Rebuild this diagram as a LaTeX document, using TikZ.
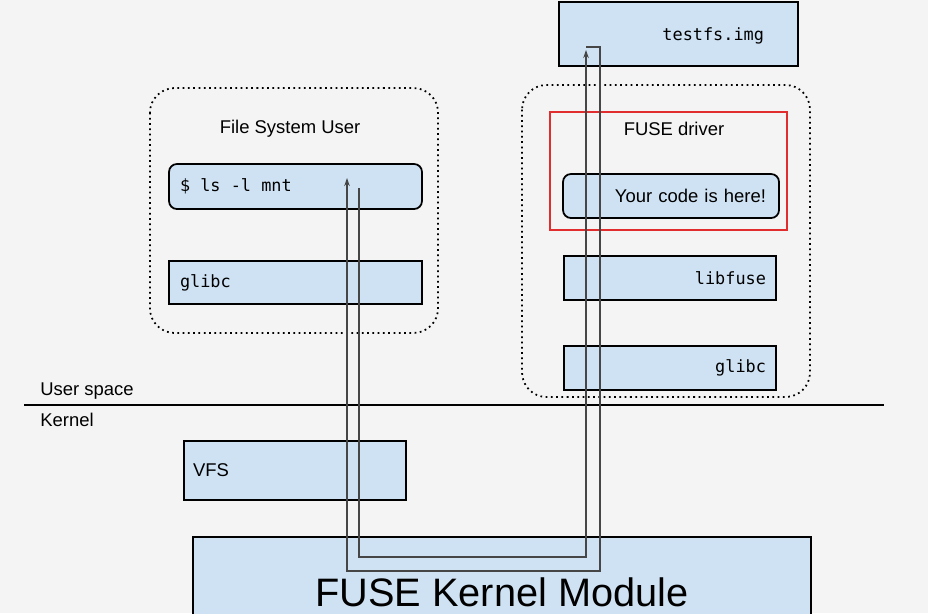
\documentclass[tikz,border=0pt]{standalone}
\usepackage{fontspec}
\setmainfont{Liberation Sans}
\setmonofont{DejaVu Sans Mono}
\usepackage{xcolor}
\definecolor{fuseblue}{RGB}{207,226,243}
\definecolor{fusebg}{RGB}{244,244,244}
\definecolor{fusered}{RGB}{225,45,45}
\definecolor{fusegrey}{RGB}{70,70,70}
\usetikzlibrary{arrows.meta,positioning,calc}
\newcommand{\msp}{\hspace{0.602em}}
\tikzset{
  blk/.style={draw=black,line width=1pt,fill=fuseblue,font=\fontsize{9.6}{11}\ttfamily,inner ysep=0pt},
  rblk/.style={blk,rounded corners=4.5pt},
  grp/.style={draw=black,dotted,line width=1pt,rounded corners=14pt},
  lab/.style={font=\fontsize{10.5}{12}\selectfont,inner sep=0pt},
  arr/.style={-{Stealth[length=1.6mm,width=1.1mm]},draw=fusegrey,line width=0.6pt},
}

\begin{document}
\begin{tikzpicture}[x=0.02cm,y=-0.02cm]
    \fill[fusebg] (0,0) rectangle (928,613);
    \useasboundingbox (0,0) rectangle (928,613);
    \clip (0,0) rectangle (928,613);
    % user side
    \draw[grp] (150,88) rectangle (438,333);
    \node[lab] (fsuser) at (290,129) {File System User};
    \node[rblk,minimum width=5.06cm,minimum height=0.9cm,text width=4.62cm,inner xsep=0.22cm,align=left] (ls) at (295.5,186.5) {\$\msp{}ls\msp{}-l\msp{}mnt};
    \node[blk,minimum width=5.06cm,minimum height=0.86cm,text width=4.62cm,inner xsep=0.22cm,align=left] (glibcl) at (295.5,282.5) {glibc};
    % driver side
    \node[blk,minimum width=4.78cm,minimum height=1.28cm,text width=3.42cm,inner xsep=0.68cm,align=right,text height=7pt,text depth=0pt] (img) at (678.5,34) {testfs.img};
    \draw[grp] (522,85) rectangle (810,397);
    \draw[fusered,line width=1.2pt] (550,112) rectangle (787,230);
    \node[lab] (fdrv) at (674,129) {FUSE driver};
    \node[rblk,font=\fontsize{10.5}{12}\selectfont,minimum width=4.32cm,minimum height=0.88cm,text width=3.8cm,inner xsep=0.26cm,align=right] (code) at (671,196) {Your code is here!};
    \node[blk,minimum width=4.24cm,minimum height=0.88cm,text width=3.84cm,inner xsep=0.2cm,align=right] (libfuse) at (670,278) {libfuse};
    \node[blk,minimum width=4.24cm,minimum height=0.88cm,text width=3.84cm,inner xsep=0.2cm,align=right] (glibcr) at (670,368) {glibc};
    % user / kernel split
    \coordinate (splitl) at (24,405);
    \coordinate (splitr) at (884,405);
    \draw[black,line width=1pt] (splitl) -- (splitr);
    \node[lab,anchor=west] (uspace) at (40,391) {User space};
    \node[lab,anchor=west] (kern) at (40,420) {Kernel};
    % kernel
    \node[blk,font=\fontsize{10.5}{12}\selectfont,minimum width=4.44cm,minimum height=1.18cm,text width=4.08cm,inner xsep=0.18cm,align=left] (vfs) at (295,470.5) {VFS};
    \node[blk,minimum width=12.36cm,minimum height=2.36cm] (fkm) at (502,596) {};
    \node[font=\fontsize{22.6}{26}\selectfont,inner sep=0pt] (fkmtxt) at (502,592) {FUSE Kernel Module};
    % request and reply
    \coordinate (req) at (359,188);
    \coordinate (imgin) at (586,50);
    \coordinate (imgout) at (586,47);
    \coordinate (lsin) at (347,178);
    \draw[arr] (req) -- (359,557) -- (586,557) -- (imgin);
    \draw[arr] (imgout) -- (600,47) -- (600,571) -- (347,571) -- (lsin);
\end{tikzpicture}
\end{document}
